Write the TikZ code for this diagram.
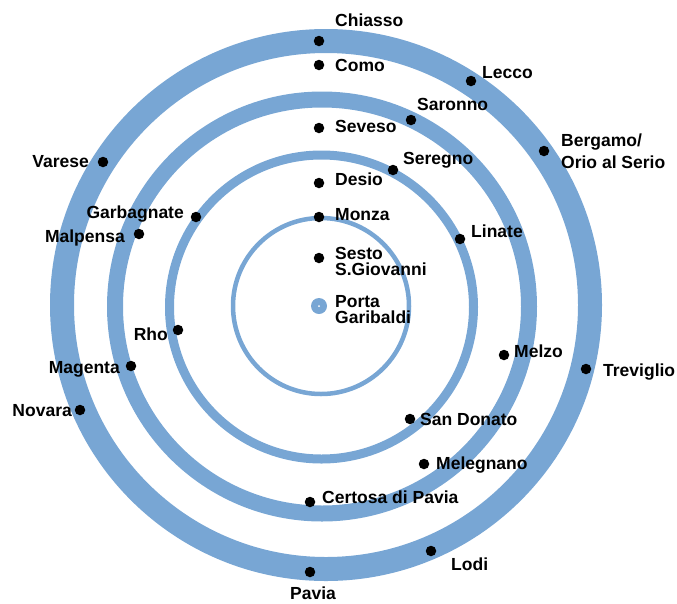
\documentclass[tikz,border=0pt]{standalone}
\usepackage{fontspec}
\setmainfont{Liberation Sans}
\definecolor{ringblue}{RGB}{120,166,212}
\tikzset{
  ring/.style={draw=ringblue},
  stn/.style={circle, fill=black, inner sep=0pt, minimum size=10.5pt},
  hub/.style={circle, fill=ringblue, inner sep=0pt, minimum size=16pt},
  lbl/.style={inner sep=0pt, font=\fontsize{17.5}{15.5}\selectfont\bfseries},
  lblw/.style={lbl, anchor=base west},
  lble/.style={lbl, anchor=base east},
}
\begin{document}
\begin{tikzpicture}[x=1pt,y=-1pt]
\useasboundingbox (0,0) rectangle (677,603);
% rings
\draw[ring, line width=24pt] (326,305) circle[radius=264pt];
\draw[ring, line width=16pt] (322,306.5) circle[radius=207pt];
\draw[ring, line width=9pt] (321.5,307) circle[radius=152pt];
\draw[ring, line width=4.5pt] (321,306) circle[radius=88pt];
% stations
\node[stn] (chiasso) at (319,41) {};
\node[stn] (como) at (319,65) {};
\node[stn] (lecco) at (471,81) {};
\node[stn] (saronno) at (411,120) {};
\node[stn] (seveso) at (319,128) {};
\node[stn] (bergamo) at (544,151) {};
\node[stn] (seregno) at (393,170) {};
\node[stn] (varese) at (103,162) {};
\node[stn] (desio) at (319,183) {};
\node[stn] (garbagnate) at (196,217) {};
\node[stn] (monza) at (319,217) {};
\node[stn] (linate) at (460,239) {};
\node[stn] (malpensa) at (139,234) {};
\node[stn] (sesto) at (319,258) {};
\node[hub] (porta) at (319,306) {};
\fill[white] (porta.center) circle[radius=1pt];
\node[stn] (rho) at (178,330) {};
\node[stn] (melzo) at (504,355) {};
\node[stn] (magenta) at (131,366) {};
\node[stn] (treviglio) at (586,369) {};
\node[stn] (novara) at (80,410) {};
\node[stn] (sandonato) at (410,419) {};
\node[stn] (melegnano) at (424,464) {};
\node[stn] (certosa) at (310,502) {};
\node[stn] (lodi) at (431,551) {};
\node[stn] (pavia) at (310,572) {};
% labels
\node[lblw] (chiassoL) at (335,26) {Chiasso};
\node[lblw] (comoL) at (335,71) {Como};
\node[lblw] (leccoL) at (482,78) {Lecco};
\node[lblw] (saronnoL) at (417,110) {Saronno};
\node[lblw] (sevesoL) at (335,132) {Seveso};
\node[lbl, anchor=north west, align=left, font=\fontsize{17.5}{22}\selectfont\bfseries] (bergamoL) at (561,133.5) {Bergamo/\\Orio al Serio};
\node[lblw] (seregnoL) at (403,164) {Seregno};
\node[lble] (vareseL) at (89,167) {Varese};
\node[lblw] (desioL) at (335,185) {Desio};
\node[lble] (garbagnateL) at (184,218) {Garbagnate};
\node[lblw] (monzaL) at (335,220) {Monza};
\node[lblw] (linateL) at (471,237) {Linate};
\node[lble] (malpensaL) at (125,242) {Malpensa};
\node[lbl, anchor=north west, align=left] (sestoL) at (335,247.5) {Sesto\\S.Giovanni};
\node[lbl, anchor=north west, align=left] (portaL) at (335,295.5) {Porta\\Garibaldi};
\node[lble] (rhoL) at (168,340) {Rho};
\node[lblw] (melzoL) at (514,357) {Melzo};
\node[lble] (magentaL) at (120,373) {Magenta};
\node[lblw] (trevL) at (603,376) {Treviglio};
\node[lble] (novaraL) at (72,416) {Novara};
\node[lblw] (sandonatoL) at (420,425) {San Donato};
\node[lblw] (melegnanoL) at (436,469) {Melegnano};
\node[lblw] (certosaL) at (322,503) {Certosa di Pavia};
\node[lblw] (lodiL) at (451,570) {Lodi};
\node[lbl, anchor=base] (paviaL) at (313,599.5) {Pavia};
\end{tikzpicture}
\end{document}
